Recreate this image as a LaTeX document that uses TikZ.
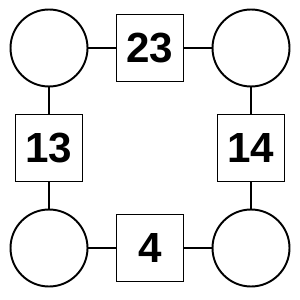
\documentclass[tikz,border=0pt]{standalone}
\usepackage{fontspec}
\setmainfont{Liberation Sans}
\usepackage{tikz}
\usetikzlibrary{positioning}

\begin{document}
\begin{tikzpicture}[
      x=0.02cm,y=-0.02cm,
      ring/.style={circle,draw,line width=1.1pt,minimum size=1.54cm,inner sep=0pt},
      numbox/.style={rectangle,draw,line width=1.1pt,minimum size=1.34cm,inner sep=0pt,font=\fontsize{24}{28}\selectfont\bfseries},
      line width=1.1pt,
    ]
    \useasboundingbox (0,0) rectangle (300,300);
    \node[ring] (tl) at (49,48) {};
    \node[ring] (tr) at (251,48) {};
    \node[ring] (bl) at (49,248) {};
    \node[ring] (br) at (251,248) {};
    \node[numbox] (top) at (150,48) {23};
    \node[numbox] (left) at (49,148) {13};
    \node[numbox] (right) at (251,148) {14};
    \node[numbox] (bottom) at (150,248) {4};
    \draw (tl) -- (top);
    \draw (top) -- (tr);
    \draw (tl) -- (left);
    \draw (left) -- (bl);
    \draw (tr) -- (right);
    \draw (right) -- (br);
    \draw (bl) -- (bottom);
    \draw (bottom) -- (br);
  \end{tikzpicture}
\end{document}
